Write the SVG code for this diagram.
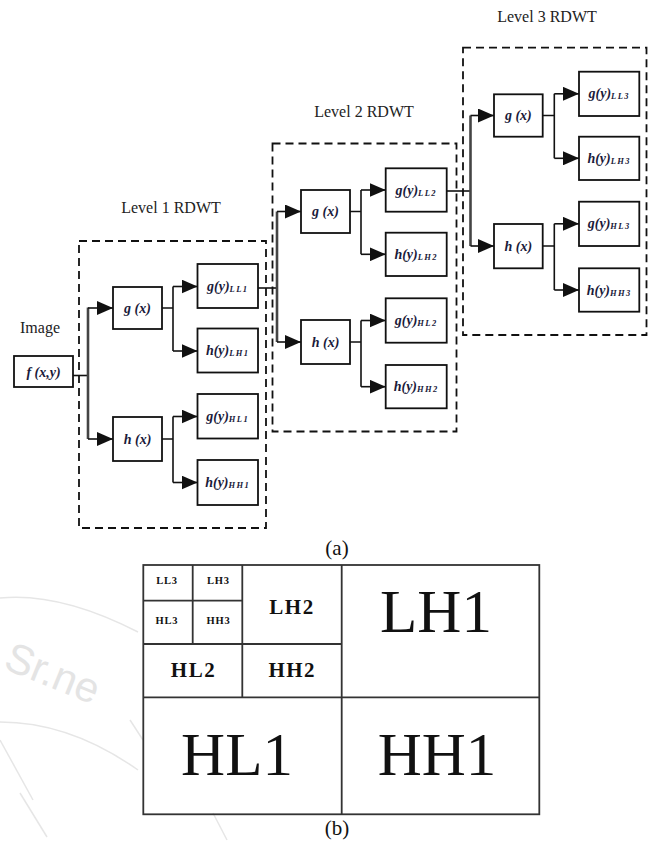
<svg xmlns="http://www.w3.org/2000/svg" width="651" height="843" viewBox="0 0 651 843">
<style>
.bg{fill:#fff}
.dash{fill:none;stroke:#111;stroke-width:1.8;stroke-dasharray:8 5}
.box{fill:#fff;stroke:#111;stroke-width:1.8}
.ln{fill:none;stroke:#111;stroke-width:1.6}
.bus{fill:none;stroke:#444;stroke-width:2.6}
.arr{fill:none;stroke:#111;stroke-width:1.6;marker-end:url(#ah)}
.hdr{font-family:"Liberation Serif",serif;font-size:16px;fill:#222;text-anchor:middle}
.nl{font-family:"Liberation Serif",serif;font-size:14px;font-style:italic;font-weight:bold;fill:#1a1a3a;text-anchor:middle}
.sub{font-size:8.5px;letter-spacing:1.4px}
.grid{fill:none;stroke:#333;stroke-width:1.8}
.t{font-family:"Liberation Serif",serif;fill:#111;text-anchor:middle}
.wm{fill:none;stroke:#e6e6e6;stroke-width:1.5}
</style>
<defs>
<marker id="ah" markerUnits="userSpaceOnUse" markerWidth="17" markerHeight="14" refX="16" refY="7" orient="auto">
<path d="M0,0 L16,7 L0,14 Z" fill="#111"/>
</marker>
</defs>
<rect class="bg" x="0" y="0" width="651" height="843"/>

<g id="watermark">
<path class="wm" d="M0,598 Q60,592 138,632"/>
<path class="wm" d="M0,722 Q70,722 138,770"/>
<path class="wm" d="M0,740 L33,800"/>
<path class="wm" d="M20,793 L47,837"/>
<path class="wm" d="M130,720 L143,740"/>
<path class="wm" d="M213,813 L227,840"/>
<text x="2" y="668" transform="rotate(22 2 668)" font-family="Liberation Sans, sans-serif" font-size="42" fill="#e4e4e4">Sr.ne</text>
</g>

<g id="frames">
<rect class="dash" x="79" y="241" width="187" height="287"/>
<rect class="dash" x="272.5" y="143.5" width="184" height="288"/>
<rect class="dash" x="463" y="47.7" width="183.5" height="287.3"/>
<text class="hdr" x="171" y="213">Level 1 RDWT</text>
<text class="hdr" x="364" y="117">Level 2 RDWT</text>
<text class="hdr" x="547" y="22">Level 3 RDWT</text>
<text class="hdr" x="40" y="333">Image</text>
</g>

<g id="connectors">
<path class="ln" d="M73,375.5 H88"/>
<path class="bus" d="M88,307.5 V439"/>
<path class="arr" d="M88,308 H113"/>
<path class="arr" d="M88,439 H113"/>
<path class="ln" d="M162,308 H173 M173,286.5 V351"/>
<path class="arr" d="M173,286.5 H197.5"/>
<path class="arr" d="M173,351 H197.5"/>
<path class="ln" d="M162,439 H173 M173,416.5 V482.5"/>
<path class="arr" d="M173,416.5 H197.5"/>
<path class="arr" d="M173,482.5 H197.5"/>
<path class="ln" d="M258,288 H277"/>

<path class="bus" d="M277,211.5 V342"/>
<path class="arr" d="M277,211.5 H301"/>
<path class="arr" d="M277,342 H301"/>
<path class="ln" d="M350,211.5 H361 M361,190 V254.3"/>
<path class="arr" d="M361,190 H385.7"/>
<path class="arr" d="M361,254.3 H385.7"/>
<path class="ln" d="M350,342 H361 M361,320.5 V386.7"/>
<path class="arr" d="M361,320.5 H385.7"/>
<path class="arr" d="M361,386.7 H385.7"/>
<path class="ln" d="M446.7,191 H470.5"/>

<path class="bus" d="M470.5,115.5 V246"/>
<path class="arr" d="M470.5,115.5 H494"/>
<path class="arr" d="M470.5,246 H494"/>
<path class="ln" d="M542.7,115.5 H554.3 M554.3,93.8 V158.3"/>
<path class="arr" d="M554.3,93.8 H579"/>
<path class="arr" d="M554.3,158.3 H579"/>
<path class="ln" d="M542.7,246 H554.3 M554.3,223.8 V290"/>
<path class="arr" d="M554.3,223.8 H579"/>
<path class="arr" d="M554.3,290 H579"/>
</g>

<g id="f_xy"><rect class="box" x="14" y="356" width="59" height="31"/><text class="nl" x="43.5" y="376.5">f (x,y)</text></g>

<g id="L1_gx"><rect class="box" x="113" y="287" width="49" height="42"/><text class="nl" x="137.5" y="312.5">g (x)</text></g>
<g id="L1_hx"><rect class="box" x="113" y="417" width="49" height="44"/><text class="nl" x="137.5" y="443.5">h (x)</text></g>
<g id="L1_LL"><rect class="box" x="197.5" y="264" width="60.5" height="44"/><text class="nl" x="227.7" y="290.5">g(y)<tspan class="sub" dy="1">LL1</tspan></text></g>
<g id="L1_LH"><rect class="box" x="197.5" y="328.5" width="60.5" height="44"/><text class="nl" x="227.7" y="355">h(y)<tspan class="sub" dy="1">LH1</tspan></text></g>
<g id="L1_HL"><rect class="box" x="197.5" y="394" width="60.5" height="44.5"/><text class="nl" x="227.7" y="420.5">g(y)<tspan class="sub" dy="1">HL1</tspan></text></g>
<g id="L1_HH"><rect class="box" x="197.5" y="460" width="60.5" height="45"/><text class="nl" x="227.7" y="487">h(y)<tspan class="sub" dy="1">HH1</tspan></text></g>

<g id="L2_gx"><rect class="box" x="301" y="190" width="49" height="43"/><text class="nl" x="325.5" y="216">g (x)</text></g>
<g id="L2_hx"><rect class="box" x="301" y="320" width="49" height="44"/><text class="nl" x="325.5" y="346.5">h (x)</text></g>
<g id="L2_LL"><rect class="box" x="385.7" y="168.3" width="61" height="43.4"/><text class="nl" x="416.2" y="194.5">g(y)<tspan class="sub" dy="1">LL2</tspan></text></g>
<g id="L2_LH"><rect class="box" x="385.7" y="232.7" width="61" height="43.3"/><text class="nl" x="416.2" y="258.8">h(y)<tspan class="sub" dy="1">LH2</tspan></text></g>
<g id="L2_HL"><rect class="box" x="385.7" y="298.3" width="61" height="44.4"/><text class="nl" x="416.2" y="325">g(y)<tspan class="sub" dy="1">HL2</tspan></text></g>
<g id="L2_HH"><rect class="box" x="385.7" y="365" width="61" height="43.3"/><text class="nl" x="416.2" y="391.2">h(y)<tspan class="sub" dy="1">HH2</tspan></text></g>

<g id="L3_gx"><rect class="box" x="494" y="94.3" width="48.7" height="42.4"/><text class="nl" x="518.3" y="120">g (x)</text></g>
<g id="L3_hx"><rect class="box" x="494" y="224" width="48.7" height="44.3"/><text class="nl" x="518.3" y="250.5">h (x)</text></g>
<g id="L3_LL"><rect class="box" x="579" y="71.7" width="60.3" height="44.3"/><text class="nl" x="609.2" y="98.3">g(y)<tspan class="sub" dy="1">LL3</tspan></text></g>
<g id="L3_LH"><rect class="box" x="579" y="136.7" width="60.3" height="43.3"/><text class="nl" x="609.2" y="162.8">h(y)<tspan class="sub" dy="1">LH3</tspan></text></g>
<g id="L3_HL"><rect class="box" x="579" y="201.7" width="60.3" height="44.3"/><text class="nl" x="609.2" y="228.3">g(y)<tspan class="sub" dy="1">HL3</tspan></text></g>
<g id="L3_HH"><rect class="box" x="579" y="268.3" width="60.3" height="43.4"/><text class="nl" x="609.2" y="294.5">h(y)<tspan class="sub" dy="1">HH3</tspan></text></g>

<text class="t" x="337" y="555" font-size="21">(a)</text>

<g id="subbands">
<rect class="grid" x="143.3" y="565" width="396" height="249.3"/>
<path class="grid" d="M341.7,565 V814.3 M143.3,697.3 H539.3 M242.3,565 V697.3 M143.3,644 H341.7 M192.7,565 V644 M143.3,600.7 H242.3"/>
<g font-weight="bold" font-size="10.5" fill="#444" letter-spacing="0.8">
<text class="t" x="167" y="583.5" fill="#444">LL3</text>
<text class="t" x="218.3" y="583.5" fill="#444">LH3</text>
<text class="t" x="167" y="624" fill="#444">HL3</text>
<text class="t" x="218.5" y="624" fill="#444">HH3</text>
</g>
<g font-weight="bold" font-size="21" letter-spacing="1.5">
<text class="t" x="292" y="614">LH2</text>
<text class="t" x="193.5" y="676.7">HL2</text>
<text class="t" x="292.3" y="676.7">HH2</text>
</g>
<g font-size="61">
<text class="t" x="436" y="631.7">LH1</text>
<text class="t" x="237" y="775">HL1</text>
<text class="t" x="437" y="775">HH1</text>
</g>
</g>

<text class="t" x="337" y="835" font-size="21">(b)</text>
</svg>
